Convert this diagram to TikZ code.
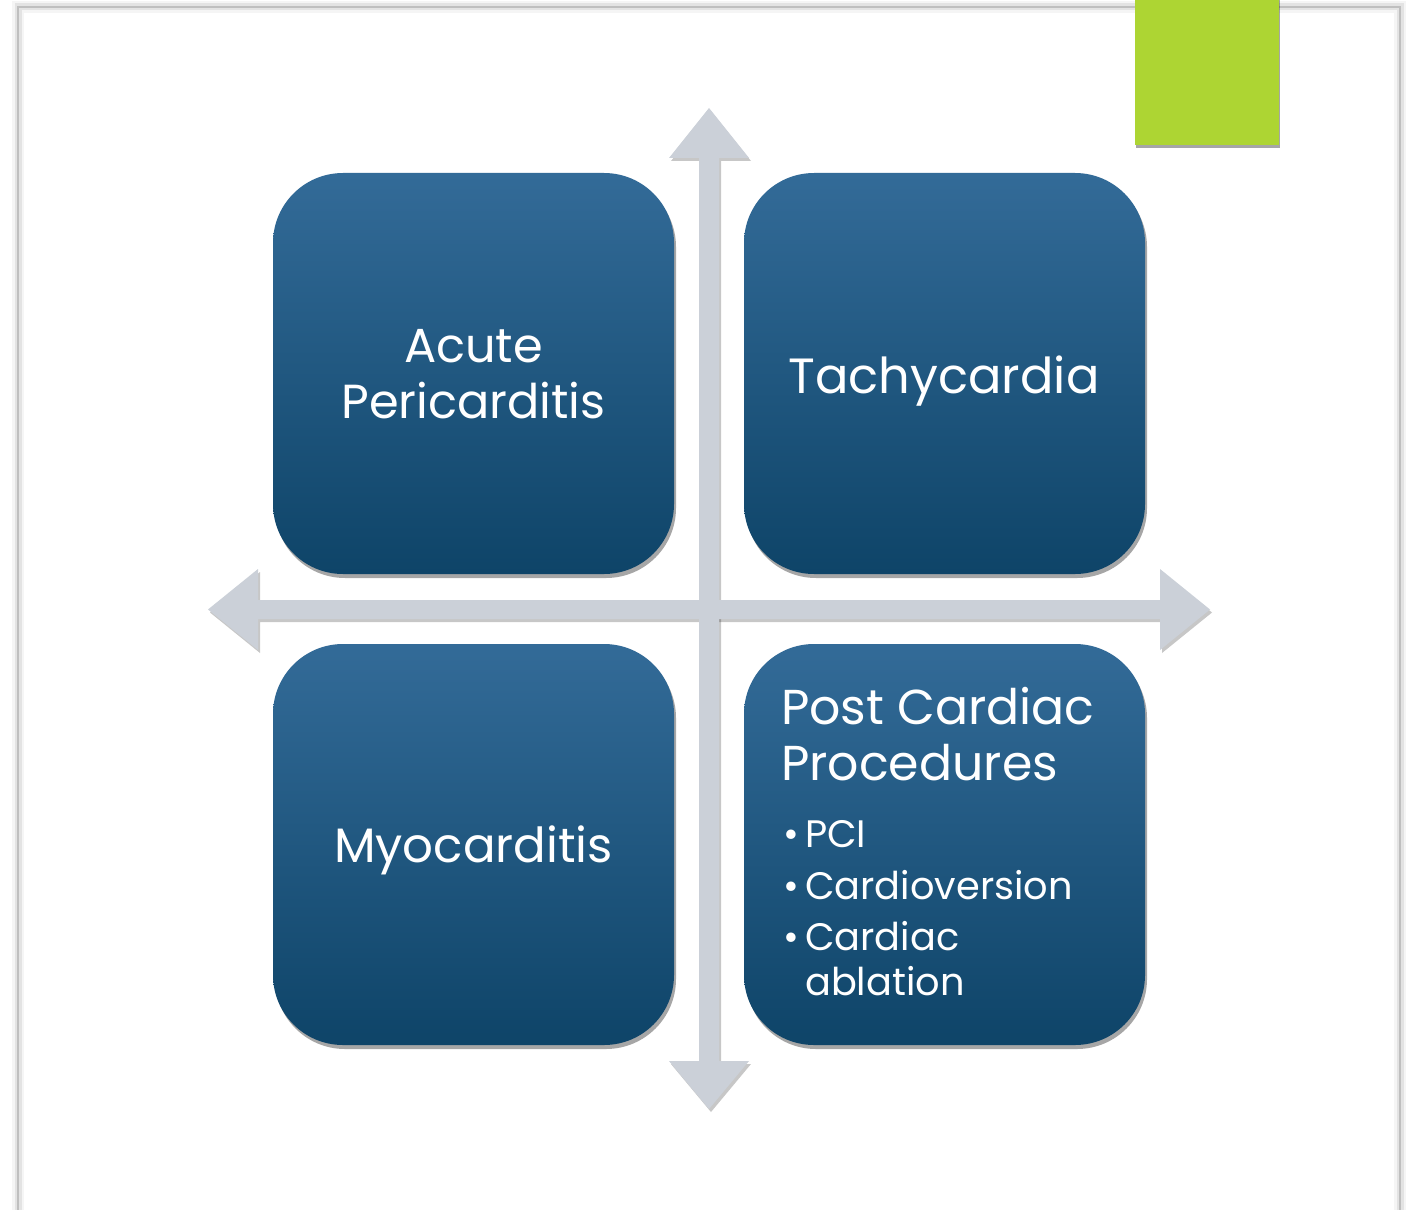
\documentclass[tikz,border=0pt]{standalone}
\usepackage{fontspec}
\setmainfont{Poppins}
\usetikzlibrary{shadows}
\definecolor{boxtop}{HTML}{336B98}
\definecolor{boxbot}{HTML}{0E4468}
\definecolor{arrowgray}{HTML}{CBD0D8}
\definecolor{limegreen}{HTML}{ADD533}
\definecolor{framegray}{HTML}{BFBFBF}
\begin{document}
\begin{tikzpicture}[x=1pt,y=-1pt,
  quad/.style={rectangle, rounded corners=70pt, top color=boxtop, bottom color=boxbot,
    minimum width=401pt, minimum height=401pt, inner sep=0pt,
    drop shadow={shadow xshift=2pt, shadow yshift=-4pt, opacity=0.35, fill=black}},
  ctxt/.style={text=white, anchor=base, inner sep=0pt},
  pctxt/.style={text=white, anchor=base west, inner sep=0pt, font=\fontsize{49}{56}\selectfont},
  bultxt/.style={text=white, anchor=base west, inner sep=0pt, font=\fontsize{38.3}{45}\selectfont},
  arrowshadow/.style={fill=black, opacity=0.22},
  arrowfill/.style={fill=arrowgray}]
\useasboundingbox (0,0) rectangle (1412,1209);
\fill[white] (0,0) rectangle (1412,1209);
% page frame with soft glow
\draw[black, opacity=0.04, line width=12pt] (18,7) rectangle (1400,1260);
\draw[black, opacity=0.07, line width=7pt] (18,7) rectangle (1400,1260);
\draw[framegray, line width=2.5pt] (18,7) rectangle (1400,1260);
% green tab
\node[fill=limegreen, minimum width=144pt, minimum height=160pt, inner sep=0pt,
  drop shadow={shadow xshift=1pt, shadow yshift=-3pt, opacity=0.35, fill=black}]
  (tab) at (1207,65) {};
% cross arrows: shadows
\fill[arrowshadow] (210,612.5) -- (260,572) -- (260,603) -- (1162,603) -- (1162,572) -- (1212,612.5)
  -- (1162,653) -- (1162,622) -- (260,622) -- (260,653) -- cycle;
\fill[arrowshadow] (711,111) -- (751,161) -- (721,161) -- (721,1064) -- (751,1064) -- (711,1112)
  -- (671,1064) -- (701,1064) -- (701,161) -- (671,161) -- cycle;
% cross arrows
\fill[arrowfill] (208,609.5) -- (258,569) -- (258,600) -- (1160,600) -- (1160,569) -- (1210,609.5)
  -- (1160,650) -- (1160,619) -- (258,619) -- (258,650) -- cycle;
\fill[arrowfill] (709,108) -- (749,158) -- (719,158) -- (719,1061) -- (749,1061) -- (709,1109)
  -- (669,1061) -- (699,1061) -- (699,158) -- (669,158) -- cycle;
% quadrants
\node[quad] (acute) at (473.5,373.5) {};
\node[quad] (tachy) at (944.5,373.5) {};
\node[quad] (myo) at (473.5,844.5) {};
\node[quad] (post) at (944.5,844.5) {};
% texts
\node[ctxt, font=\fontsize{47.8}{56}\selectfont] (t1a) at (473.5,362) {Acute};
\node[ctxt, font=\fontsize{47.8}{56}\selectfont] (t1b) at (473.5,418) {Pericarditis};
\node[ctxt, font=\fontsize{49.5}{60}\selectfont] (t2) at (944,393) {Tachycardia};
\node[ctxt, font=\fontsize{48.3}{56}\selectfont] (t3) at (473.5,862) {Myocarditis};
\node[pctxt] (pc1) at (781,724) {Post Cardiac};
\node[pctxt] (pc2) at (781,780) {Procedures};
\node[bultxt] (b1) at (783,847) {•};
\node[bultxt] (b2) at (783,899) {•};
\node[bultxt] (b3) at (783,950) {•};
\node[bultxt] (i1) at (805,847) {PCI};
\node[bultxt] (i2) at (805,899) {Cardioversion};
\node[bultxt] (i3) at (805,950) {Cardiac};
\node[bultxt] (i4) at (805,995) {ablation};
\end{tikzpicture}
\end{document}
